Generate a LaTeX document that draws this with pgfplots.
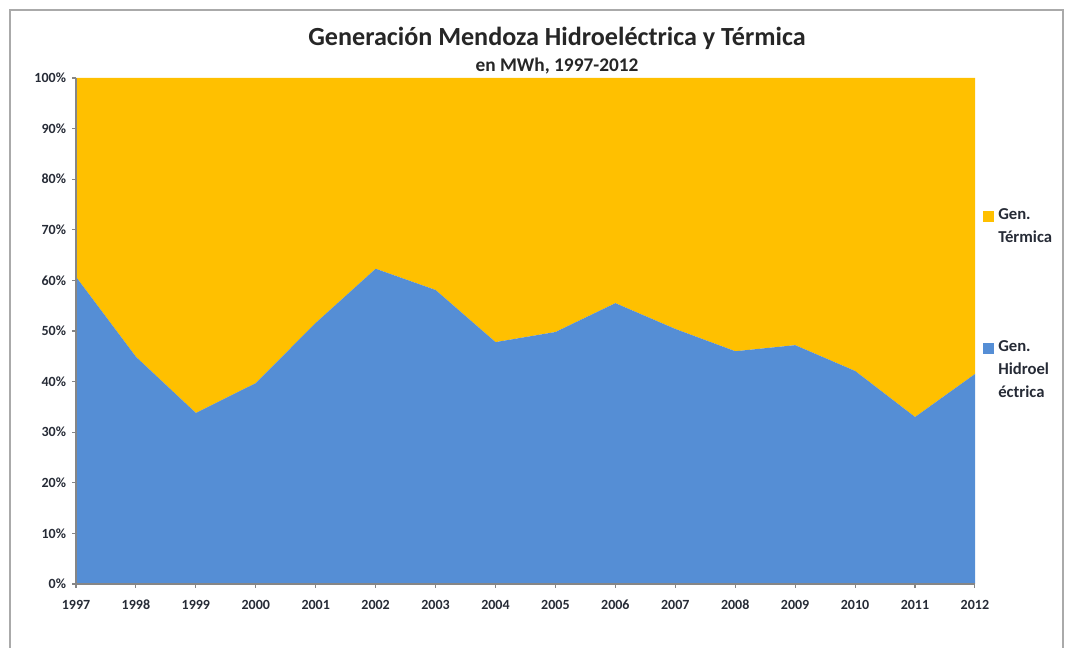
\documentclass[border=0pt]{standalone}
\usepackage{fontspec}
\setmainfont{Carlito}
\usepackage{pgfplots}
\pgfplotsset{compat=1.18}
\definecolor{Hidro}{HTML}{558ED5}
\definecolor{Termica}{HTML}{FFC000}
\definecolor{AxisGray}{HTML}{868686}
\definecolor{Txt}{HTML}{262B36}

\begin{document}
\begin{tikzpicture}
% frame and layout in source pixels (1 px = 0.75 pt)
\begin{scope}[x=0.75pt,y=-0.75pt,shift={(-57pt,438pt)}]
  \path[use as bounding box] (0,0) rectangle (1066,648);
  \draw[draw=AxisGray!70,line width=1.2pt] (10,660) -- (10,10) -- (1063,10) -- (1063,660);
  \node[font=\bfseries\fontsize{19.6}{22}\selectfont,text=black!85] at (557,38) {Generación Mendoza Hidroeléctrica y Térmica};
  \node[font=\bfseries\fontsize{14.5}{16}\selectfont,text=black!85] at (557,66) {en MWh, 1997-2012};
  % legend
  \fill[Termica] (983,211) rectangle (994,222);
  \node[anchor=north west,align=left,font=\bfseries\fontsize{12.5}{17.5}\selectfont,text=Txt,inner sep=0pt] at (998,208) {Gen.\\Térmica};
  \fill[Hidro] (983,343) rectangle (994,354);
  \node[anchor=north west,align=left,font=\bfseries\fontsize{12.5}{17.5}\selectfont,text=Txt,inner sep=0pt] at (998,340) {Gen.\\Hidroel\\éctrica};
\end{scope}
\begin{axis}[
  at={(0,0)},anchor=south west,scale only axis,
  width=674.25pt,height=379.5pt,
  xmin=1997,xmax=2012,ymin=0,ymax=100,
  xtick={1997,...,2012},ytick={0,10,...,100},
  xticklabel={\pgfmathparse{int(round(\tick))}\pgfmathresult},
  yticklabel={\pgfmathparse{int(round(\tick))}\pgfmathresult\%},
  tick label style={font=\bfseries\fontsize{10.5}{12}\selectfont,text=Txt},
  xticklabel style={yshift=-5pt,text height=7.5pt,text depth=0pt},
  yticklabel style={xshift=-1pt},
  axis x line*=bottom,axis y line*=left,
  axis line style={draw=AxisGray,line width=1pt,-},
  tick style={draw=AxisGray,line width=0.8pt},
  tick align=outside,major tick length=3pt,
  stack plots=y,area style,
]
\addplot[fill=Hidro,draw=none] coordinates {
(1997,60.7) (1998,44.9) (1999,33.8) (2000,39.7) (2001,51.6) (2002,62.3) (2003,58.1) (2004,47.8)
(2005,49.8) (2006,55.5) (2007,50.4) (2008,46.0) (2009,47.2) (2010,42.1) (2011,33.0) (2012,41.5)} \closedcycle;
\addplot[fill=Termica,draw=none] coordinates {
(1997,39.3) (1998,55.1) (1999,66.2) (2000,60.3) (2001,48.4) (2002,37.7) (2003,41.9) (2004,52.2)
(2005,50.2) (2006,44.5) (2007,49.6) (2008,54.0) (2009,52.8) (2010,57.9) (2011,67.0) (2012,58.5)} \closedcycle;
\end{axis}
\end{tikzpicture}
\end{document}
